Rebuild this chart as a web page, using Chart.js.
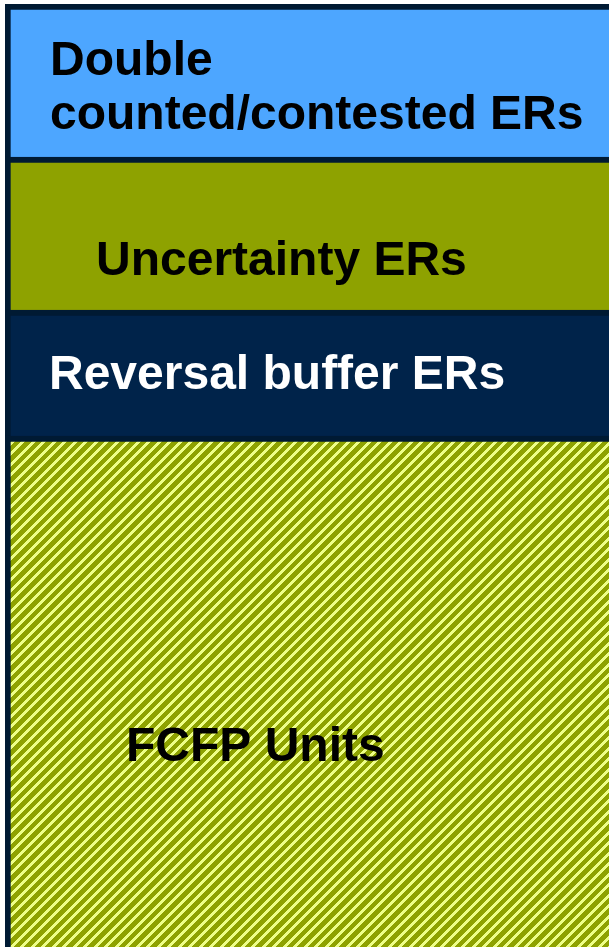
<!DOCTYPE html>
<html>
<head>
<meta charset="utf-8">
<script src="https://cdn.jsdelivr.net/npm/chart.js@4"></script>
<style>
  html, body { margin: 0; padding: 0; overflow: hidden; background: #fff; }
  #wrap { position: absolute; left: 0; top: 0; width: 640px; height: 980px; }
</style>
</head>
<body>
<div id="wrap"><canvas id="stackChart"></canvas></div>
<script>
// data, bottom segment first
const categories = ['ERs'];
const segmentNames = [
    ['FCFP Units'],
    ['Reversal buffer ERs'],
    ['Uncertainty ERs'],
    ['Double', 'counted/contested ERs']
];
const fcfpUnits = [544];
const reversalBuffer = [126];
const uncertainty = [153];
const doubleCounted = [153];

const segmentValues = [fcfpUnits, reversalBuffer, uncertainty, doubleCounted];
const total = segmentValues.reduce((s, v) => s + v[0], 0);

// crisp diagonal hatch for FCFP units (stripe every 10.5px, 21px tile)
function makeHatch() {
    const size = 21;
    const p = document.createElement('canvas');
    p.width = size;
    p.height = size;
    const c = p.getContext('2d');
    for (let y = 0; y < size; y++) {
        for (let x = 0; x < size; x++) {
            c.fillStyle = ((x + y) % 10.5) < 4 ? '#eeff88' : '#8ea200';
            c.fillRect(x, y, 1, 1);
        }
    }
    return c.createPattern(p, 'repeat');
}

const fills = [makeHatch(), '#00234a', '#8ea200', '#4da6ff'];
const textColors = ['#000000', '#ffffff', '#000000', '#000000'];
// label placement inside each segment: x offset, first baseline offset
const labelPos = [
    { dx: 121, dy: 325 },
    { dx: 44, dy: 79 },
    { dx: 91, dy: 118 },
    { dx: 45, dy: 71 }
];

const segmentLabels = {
    id: 'segmentLabels',
    afterDatasetsDraw(chart) {
        const ctx = chart.ctx;
        ctx.save();
        ctx.font = 'bold 48px "Liberation Sans", Arial, sans-serif';
        ctx.textBaseline = 'alphabetic';
        ctx.textAlign = 'left';
        chart.data.datasets.forEach((ds, i) => {
            const el = chart.getDatasetMeta(i).data[0];
            const left = el.x - el.width / 2;
            const top = Math.min(el.y, el.base);
            ctx.fillStyle = textColors[i];
            segmentNames[i].forEach((line, j) => {
                ctx.fillText(line, left + labelPos[i].dx, top + labelPos[i].dy + j * 54);
            });
        });
        ctx.restore();
    }
};

new Chart(document.getElementById('stackChart'), {
    type: 'bar',
    data: {
        labels: categories,
        datasets: segmentValues.map((vals, i) => ({
            label: segmentNames[i].join(' '),
            data: vals,
            backgroundColor: fills[i],
            borderColor: '#001a33',
            borderWidth: { top: 6, left: 6, right: 6, bottom: 0 },
            borderSkipped: false,
            barPercentage: 1,
            categoryPercentage: 1
        }))
    },
    options: {
        responsive: true,
        maintainAspectRatio: false,
        animation: false,
        layout: { padding: { left: 5, top: 4, right: 0, bottom: 0 } },
        scales: {
            x: { stacked: true, display: false },
            y: { stacked: true, display: false, min: 0, max: total }
        },
        plugins: {
            legend: { display: false },
            tooltip: { enabled: false }
        }
    },
    plugins: [segmentLabels]
});
</script>
</body>
</html>
